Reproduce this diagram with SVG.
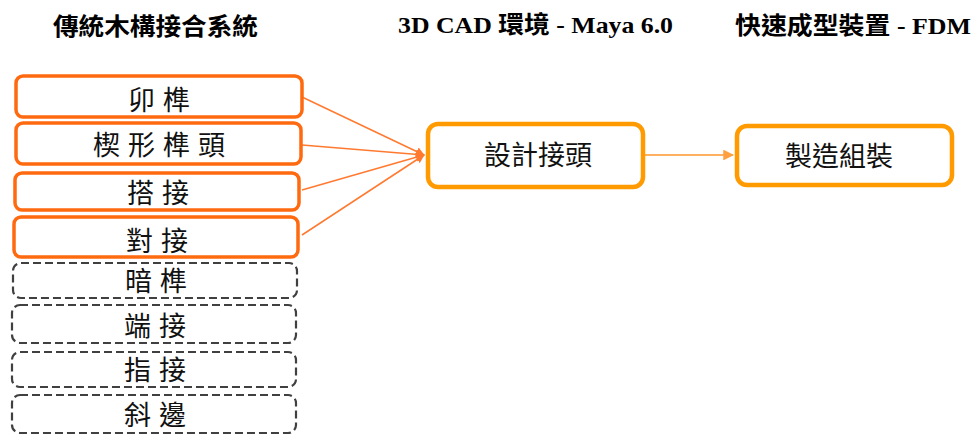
<svg xmlns="http://www.w3.org/2000/svg" width="973" height="436" viewBox="0 0 973 436">
<style>
.title{font-family:"Liberation Serif","Noto Sans CJK TC",serif;font-weight:bold;font-size:24px;fill:#000}
.lbl{font-family:"Noto Sans CJK TC",sans-serif;font-size:27px;fill:#111;text-anchor:middle;letter-spacing:8px}
.lbl2{font-family:"Noto Sans CJK TC",sans-serif;font-size:27px;fill:#111;text-anchor:middle}
.solid{fill:#fff;stroke:#FF6A10;stroke-width:3.5}
.dash{fill:#fff;stroke:#404040;stroke-width:2.2;stroke-dasharray:8 4}
.main{fill:#fff;stroke:#FF9A00;stroke-width:4.5}
.conn{stroke:#FF7A30;stroke-width:1.5;fill:none}
.conn2{stroke:#FFB060;stroke-width:1.8;fill:none}
</style>
<defs>
<marker id="ah" viewBox="0 0 10 10" refX="9" refY="5" markerWidth="6" markerHeight="6" orient="auto" markerUnits="strokeWidth">
<path d="M0,0L10,5L0,10z" fill="#FF7A30"/>
</marker>
<marker id="ah2" viewBox="0 0 10 10" refX="9" refY="5" markerWidth="6" markerHeight="6" orient="auto" markerUnits="strokeWidth">
<path d="M0,0L10,5L0,10z" fill="#FFA040"/>
</marker>
</defs>
<g id="titles">
<text class="title" x="53" y="35" textLength="205" lengthAdjust="spacingAndGlyphs">傳統木構接合系統</text>
<text class="title" x="398" y="33" textLength="275" lengthAdjust="spacingAndGlyphs">3D CAD 環境 - Maya 6.0</text>
<text class="title" x="735" y="34" textLength="236" lengthAdjust="spacingAndGlyphs">快速成型裝置 - FDM</text>
</g>
<g id="connectors">
<line class="conn" x1="302" y1="97" x2="424" y2="155" marker-end="url(#ah)"/>
<line class="conn" x1="302" y1="145" x2="424" y2="155" marker-end="url(#ah)"/>
<line class="conn" x1="302" y1="190" x2="424" y2="155" marker-end="url(#ah)"/>
<line class="conn" x1="302" y1="235" x2="424" y2="155" marker-end="url(#ah)"/>
<line class="conn2" x1="645" y1="155" x2="733" y2="155" marker-end="url(#ah2)"/>
</g>
<g id="n1"><rect class="solid" x="16" y="76" width="286" height="41" rx="7"/><text class="lbl" x="163" y="110">卯榫</text></g>
<g id="n2"><rect class="solid" x="16" y="123" width="285" height="41" rx="7"/><text class="lbl" x="163" y="155">楔形榫頭</text></g>
<g id="n3"><rect class="solid" x="15" y="173" width="284" height="37" rx="7"/><text class="lbl" x="162" y="203">搭接</text></g>
<g id="n4"><rect class="solid" x="14" y="217" width="284" height="40" rx="7"/><text class="lbl" x="161" y="251">對接</text></g>
<g id="n5"><rect class="dash" x="13" y="263" width="284" height="35" rx="8"/><text class="lbl" x="160" y="291">暗榫</text></g>
<g id="n6"><rect class="dash" x="12" y="305" width="284" height="38" rx="8"/><text class="lbl" x="159" y="336">端接</text></g>
<g id="n7"><rect class="dash" x="12" y="352" width="284" height="35" rx="8"/><text class="lbl" x="159" y="380">指接</text></g>
<g id="n8"><rect class="dash" x="12" y="395" width="284" height="38" rx="8"/><text class="lbl" x="159" y="425">斜邊</text></g>
<g id="n9"><rect class="main" x="428" y="124" width="215" height="63" rx="10"/><text class="lbl2" x="538" y="165">設計接頭</text></g>
<g id="n10"><rect class="main" x="737" y="126" width="215" height="59" rx="10"/><text class="lbl2" x="839" y="166">製造組裝</text></g>
</svg>
